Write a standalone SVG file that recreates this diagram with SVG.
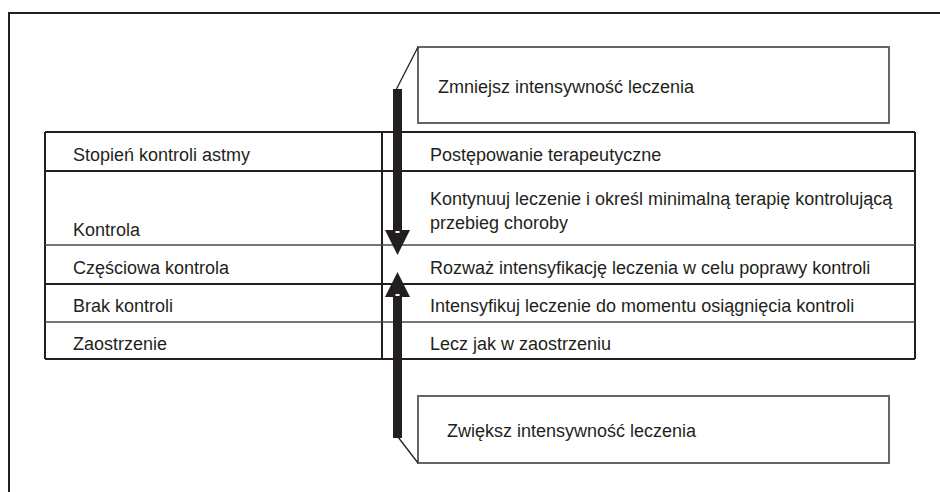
<svg xmlns="http://www.w3.org/2000/svg" width="940" height="492" viewBox="0 0 940 492">
<style>
text{font-family:"Liberation Sans",Arial,sans-serif;font-size:18px;fill:#231f20}
.dark{stroke:#231f20;stroke-width:2;fill:none}
.grey{stroke:#4a4a4a;stroke-width:1.3;fill:none}
.box{stroke:#666;stroke-width:2;fill:#fff}
.diag{stroke:#231f20;stroke-width:1.3;fill:none}
.arr{fill:#231f20}
</style>
<rect width="940" height="492" fill="#fff"/>
<path id="frame" d="M9,492 V13 H940" stroke="#231f20" stroke-width="2" fill="none"/>
<g id="table">
<path class="dark" d="M45,132 H915 M45,171 H915 M45,284 H915 M45,359 H915 M45,132 V359 M915,132 V359 M382,132 V359"/>
<path class="grey" d="M45,245 H915 M45,322 H915"/>
</g>
<g id="col-left">
<text x="73" y="161">Stopień kontroli astmy</text>
<text x="73" y="236">Kontrola</text>
<text x="73" y="274">Częściowa kontrola</text>
<text x="73" y="312">Brak kontroli</text>
<text x="73" y="350">Zaostrzenie</text>
</g>
<g id="col-right">
<text x="430" y="161">Postępowanie terapeutyczne</text>
<text x="430" y="205">Kontynuuj leczenie i określ minimalną terapię kontrolującą</text>
<text x="430" y="229">przebieg choroby</text>
<text x="430" y="274">Rozważ intensyfikację leczenia w celu poprawy kontroli</text>
<text x="430" y="312">Intensyfikuj leczenie do momentu osiągnięcia kontroli</text>
<text x="430" y="350">Lecz jak w zaostrzeniu</text>
</g>
<g id="box-decrease">
<rect class="box" x="418" y="47" width="471" height="76"/>
<text x="438" y="93">Zmniejsz intensywność leczenia</text>
</g>
<g id="box-increase">
<rect class="box" x="418" y="396" width="471" height="67"/>
<text x="447" y="437">Zwiększ intensywność leczenia</text>
</g>
<g id="connectors">
<line class="diag" x1="396" y1="90" x2="418" y2="47"/>
<rect class="arr" x="393" y="89" width="9" height="143"/>
<polygon class="arr" points="385,230 410,230 397.5,255"/>
<rect x="395.5" y="231" width="4" height="2" fill="#fff"/>
<line class="diag" x1="398" y1="437" x2="418" y2="463"/>
<rect class="arr" x="393" y="295" width="9" height="143"/>
<polygon class="arr" points="385,297 410,297 397.5,272"/>
<rect x="395.5" y="294" width="4" height="2" fill="#fff"/>
</g>
</svg>
